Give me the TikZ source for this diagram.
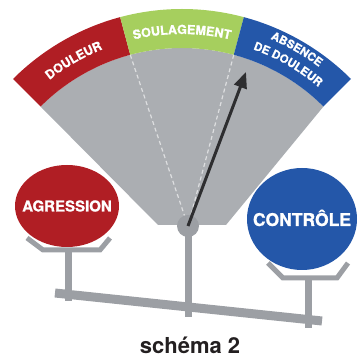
\documentclass[tikz,border=0pt]{standalone}
\usepackage{fontspec}
\setmainfont{TeX Gyre Heros}
\newfontfamily\heavyfont{TeX Gyre Heros}[FakeBold=1]
\usepackage{tikz}
\usetikzlibrary{decorations.text,arrows.meta}
\definecolor{redband}{HTML}{B01E24}
\definecolor{greenband}{HTML}{A6CF5E}
\definecolor{blueband}{HTML}{2457A9}
\definecolor{fangray}{HTML}{ABAEB2}
\definecolor{standgray}{HTML}{9C9FA4}
\definecolor{needle}{HTML}{2E2E30}
\definecolor{captionblack}{HTML}{231F20}

\begin{document}
\begin{tikzpicture}[x=1pt,y=1pt,
  stand/.style={standgray,line width=7pt},
  tray/.style={standgray,line width=5pt,line join=miter},
  bandlabel/.style={decorate,decoration={text along path,text align=center,text={#1}}},
  platetext/.style={inner sep=0pt,text=white}]
  \useasboundingbox (0,0) rectangle (359,358);
  \coordinate (c) at (182,110);
  \fill[fangray] (c) ++(135:200) arc[start angle=135,end angle=45,radius=200] -- (226,133) -- (158,133) -- cycle;
  \foreach \a/\b/\col in {135/105/redband,105/75/greenband,75/45/blueband}
    \fill[\col] (c) ++(\a:200) arc[start angle=\a,end angle=\b,radius=200] -- ++(\b:39) arc[start angle=\b,end angle=\a,radius=239] -- cycle;
  \path[bandlabel={|\fontsize{12.5}{14}\heavyfont\bfseries\color{white}|DOULEUR}] (c) ++(135:214) arc[start angle=135,end angle=105,radius=214];
  \path[bandlabel={|\fontsize{12.5}{14}\heavyfont\bfseries\color{white}|SOULAGEMENT}] (c) ++(105:214) arc[start angle=105,end angle=75,radius=214];
  \path[bandlabel={|\fontsize{11.5}{13}\heavyfont\bfseries\color{white}|ABSENCE}] (c) ++(75:227) arc[start angle=75,end angle=45,radius=227];
  \path[bandlabel={|\fontsize{11.5}{13}\heavyfont\bfseries\color{white}|DE DOULEUR}] (c) ++(75:211) arc[start angle=75,end angle=45,radius=211];
  % balance
  \coordinate (beamL) at (55,65); \coordinate (beamR) at (322,37);
  \draw[stand,line width=9pt] (beamL) -- (beamR);
  \draw[stand] (68,108) -- (68,57); \draw[stand] (188,132) -- (188,41); \draw[stand] (308,80) -- (308,30);
  \draw[tray] (27,120) -- (43,108) -- (100,108) -- (110,120);
  \draw[tray] (268,95) -- (283,80) -- (337,80) -- (348,95);
  \fill[redband] (67,152) ellipse[x radius=52,y radius=41];
  \fill[blueband] (302,139) ellipse[x radius=55,y radius=51];
  \node[platetext,font=\heavyfont\bfseries\fontsize{15}{17}\selectfont] (agression) at (67,152) {AGRESSION};
  \node[platetext,font=\heavyfont\bfseries\fontsize{17.5}{20}\selectfont] (controle) at (302,140) {CONTRÔLE};
  \node[circle,fill=standgray,minimum size=22pt,inner sep=0pt] (pivot) at (188,132) {};
  \draw[white,opacity=.6,line width=1.2pt,dash pattern=on 4pt off 3pt] (c) ++(105:200) -- (pivot);
  \draw[white,opacity=.6,line width=1.2pt,dash pattern=on 4pt off 3pt] (c) ++(75:200) -- (pivot);
  \coordinate (tip) at (246,286);
  \draw[needle,line width=3pt,-{Triangle[length=16pt,width=13pt]}] (pivot.center) -- (tip);
  \node[anchor=base,text=captionblack,font=\bfseries\fontsize{22}{24}\selectfont] (caption) at (190,4) {schéma 2};
\end{tikzpicture}
\end{document}
